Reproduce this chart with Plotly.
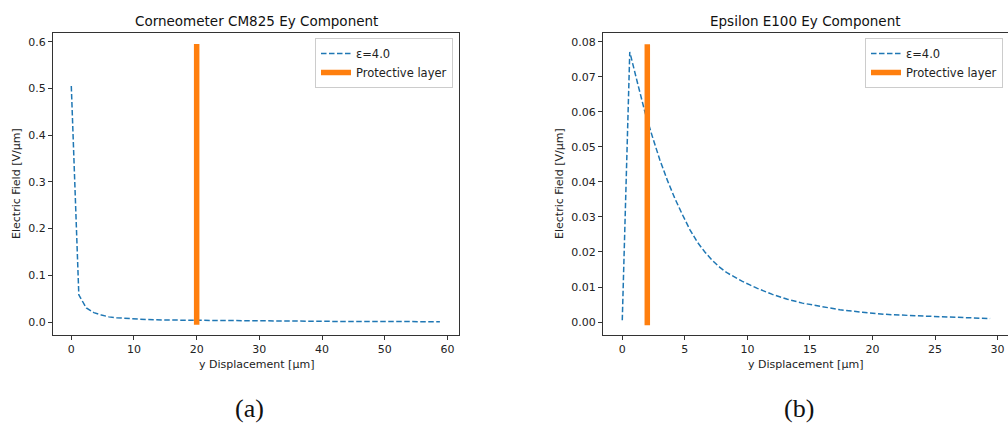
import plotly.graph_objects as go

# ---- data ----
x_a = [0.0, 1.2, 2.4, 3.6, 4.8, 6.0, 7.2, 8.4, 9.6, 12.0, 15.6, 20.4, 25.2, 30.0, 36.0, 42.0, 48.0, 54.0, 58.8]
y_a = [0.505, 0.058, 0.030, 0.020, 0.015, 0.011, 0.0090, 0.0077, 0.0067, 0.0053, 0.0042, 0.0034,
       0.0027, 0.0022, 0.0017, 0.0013, 0.0010, 0.0008, 0.0007]
layer_a_x = [20, 20]
layer_a_y = [-0.006, 0.595]

x_b = [0.0, 0.6, 1.2, 1.8, 2.4, 3.0, 3.6, 4.2, 4.8, 5.4, 6.0, 6.6, 7.2, 7.8, 8.4, 9.0, 9.6, 10.2, 10.8,
       12.0, 13.2, 14.4, 15.6, 17.4, 19.2, 21.0, 23.4, 25.8, 27.6, 29.4]
y_b = [0.0005, 0.0771, 0.0685, 0.0601, 0.0530, 0.0463, 0.0405, 0.0353, 0.0307, 0.0264, 0.0228,
       0.0200, 0.0176, 0.0156, 0.0140, 0.0127, 0.0116, 0.0106, 0.0096, 0.0079, 0.0065, 0.0054,
       0.0046, 0.0035, 0.0028, 0.0022, 0.0018, 0.0014, 0.0012, 0.0010]
layer_b_x = [2, 2]
layer_b_y = [-0.0009, 0.0793]

titles = ["Corneometer CM825 Ey Component", "Epsilon E100 Ey Component"]
captions = ["(a)", "(b)"]
series_name = "ε=4.0"
layer_name = "Protective layer"

W, H = 1008, 426
BLUE = "#1f77b4"
ORANGE = "#ff7f0e"
FONT = "DejaVu Sans"

def px(v):
    return v / W

def py(v):
    return (H - v) / H

fig = go.Figure()

fig.add_trace(go.Scatter(x=x_a, y=y_a, mode="lines", name=series_name,
                         line=dict(color=BLUE, width=1.5, dash="5.5px,2.5px"),
                         xaxis="x", yaxis="y", legend="legend"))
fig.add_trace(go.Scatter(x=layer_a_x, y=layer_a_y, mode="lines", name=layer_name,
                         line=dict(color=ORANGE, width=5.5),
                         xaxis="x", yaxis="y", legend="legend"))
fig.add_trace(go.Scatter(x=x_b, y=y_b, mode="lines", name=series_name,
                         line=dict(color=BLUE, width=1.5, dash="5.5px,2.5px"),
                         xaxis="x2", yaxis="y2", legend="legend2"))
fig.add_trace(go.Scatter(x=layer_b_x, y=layer_b_y, mode="lines", name=layer_name,
                         line=dict(color=ORANGE, width=5.5),
                         xaxis="x2", yaxis="y2", legend="legend2"))

axis_common = dict(showgrid=False, zeroline=False, showline=True, linecolor="#333",
                   linewidth=1, ticks="outside", ticklen=4, tickcolor="#333",
                   tickfont=dict(family=FONT, size=11, color="#222"))

ydom = [py(335), py(33)]

fig.update_layout(
    width=W, height=H, margin=dict(l=0, r=0, t=0, b=0),
    plot_bgcolor="white", paper_bgcolor="white",
    xaxis=dict(domain=[px(53), px(459)], range=[-2.92, 61.85], tickvals=[0, 10, 20, 30, 40, 50, 60],
               anchor="y", mirror=True, **axis_common),
    yaxis=dict(domain=ydom, range=[-0.0278, 0.6186], tickvals=[0, 0.1, 0.2, 0.3, 0.4, 0.5, 0.6],
               tickformat=".1f", anchor="x", mirror=True, **axis_common),
    xaxis2=dict(domain=[px(603), 1.0], range=[-1.54, 30.83], tickvals=[0, 5, 10, 15, 20, 25, 30],
                anchor="y2", mirror=True, **axis_common),
    yaxis2=dict(domain=ydom, range=[-0.0037, 0.0825],
                tickvals=[0, 0.01, 0.02, 0.03, 0.04, 0.05, 0.06, 0.07, 0.08],
                tickformat=".2f", anchor="x2", mirror=False, **axis_common),
    legend=dict(x=px(453), y=py(38), xanchor="right", yanchor="top",
                bgcolor="rgba(255,255,255,0.8)", bordercolor="#ccc", borderwidth=1,
                font=dict(family=FONT, size=11.5, color="#222"), tracegroupgap=0),
    legend2=dict(x=px(1003), y=py(38), xanchor="right", yanchor="top",
                 bgcolor="rgba(255,255,255,0.8)", bordercolor="#ccc", borderwidth=1,
                 font=dict(family=FONT, size=11.5, color="#222"), tracegroupgap=0),
    showlegend=True,
)

ann = []
centers = [(53 + 459) / 2, (603 + 1008) / 2]
ytitle_x = [16, 559]
for i in range(2):
    ann.append(dict(text=titles[i], x=px(centers[i]), y=py(21), xref="paper", yref="paper",
                    showarrow=False, xanchor="center", yanchor="middle",
                    font=dict(family=FONT, size=13.5, color="#111")))
    ann.append(dict(text="y Displacement [μm]", x=px(centers[i]), y=py(364), xref="paper", yref="paper",
                    showarrow=False, xanchor="center", yanchor="middle",
                    font=dict(family=FONT, size=11, color="#222")))
    ann.append(dict(text="Electric Field [V/μm]", x=px(ytitle_x[i]), y=py(184), xref="paper", yref="paper",
                    showarrow=False, xanchor="center", yanchor="middle", textangle=-90,
                    font=dict(family=FONT, size=11, color="#222")))
ann.append(dict(text=captions[0], x=px(249), y=py(408), xref="paper", yref="paper", showarrow=False,
                xanchor="center", yanchor="middle",
                font=dict(family="Liberation Serif", size=26, color="#111")))
ann.append(dict(text=captions[1], x=px(799), y=py(408), xref="paper", yref="paper", showarrow=False,
                xanchor="center", yanchor="middle",
                font=dict(family="Liberation Serif", size=26, color="#111")))
fig.update_layout(annotations=ann)

fig.write_html("out.html")
